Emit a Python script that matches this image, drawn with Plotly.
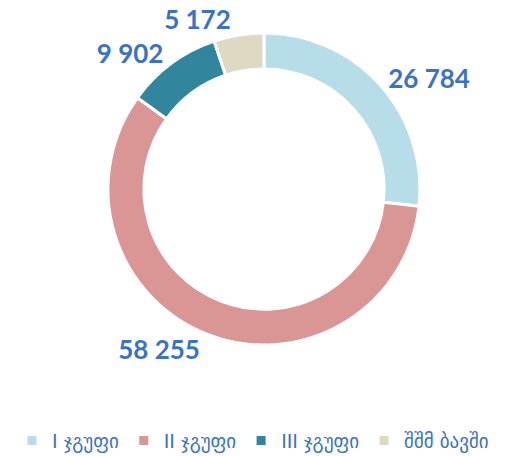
import plotly.graph_objects as go

categories = ["I ჯგუფი", "II ჯგუფი", "III ჯგუფი", "შშმ ბავში"]
values = [26784, 58255, 9902, 5172]
colors = ["#b7dee8", "#d99694", "#31859c", "#ddd9c3"]

W, H = 506, 456

fig = go.Figure(go.Pie(
    labels=categories,
    values=values,
    hole=0.77,
    sort=False,
    direction="clockwise",
    rotation=0,
    marker=dict(colors=colors, line=dict(color="white", width=3)),
    texttemplate="%{value:,}",
    textposition="outside",
    outsidetextfont=dict(family="Lato", size=26, color="#3a72c4", weight="bold"),
    domain=dict(x=[0.2134, 0.8300], y=[0.2434, 0.9276]),
    showlegend=True,
))

fig.update_layout(
    width=W, height=H,
    margin=dict(l=0, r=0, t=0, b=0, autoexpand=False),
    separators=". ",
    paper_bgcolor="white",
    plot_bgcolor="white",
    legend=dict(
        orientation="h",
        x=0.5, xanchor="center",
        y=-0.008, yanchor="bottom",
        font=dict(family="DejaVu Sans", size=19, color="#3a72c4"),
        itemwidth=30,
        traceorder="normal",
    ),
)

fig.write_html(
    "out.html",
    config={"displayModeBar": False},
    post_script="document.body.style.margin='0';",
)
